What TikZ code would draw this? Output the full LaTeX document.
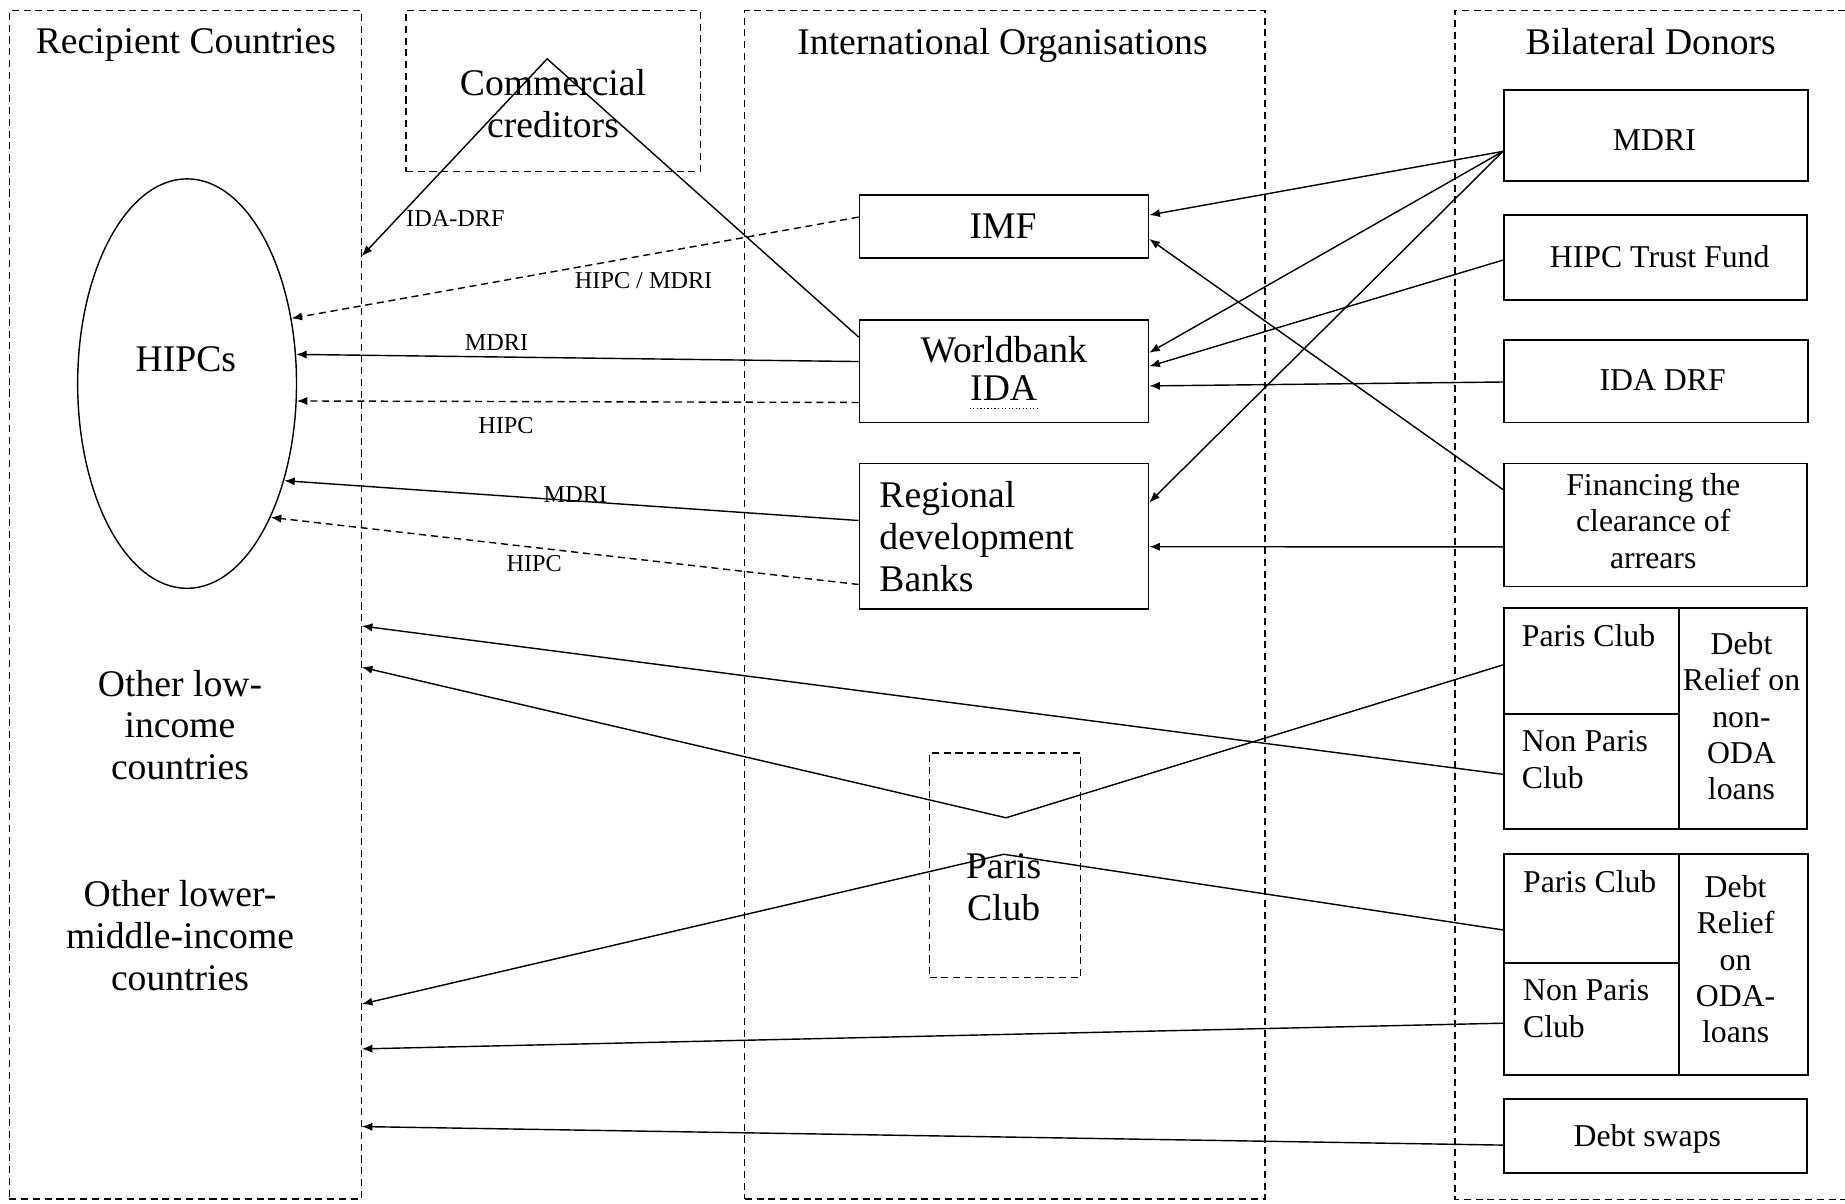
\documentclass[tikz,border=0pt]{standalone}
\usepackage{fontspec}
\setmainfont{Liberation Serif}
\usetikzlibrary{arrows.meta,calc,fit,shapes.geometric}
\begin{document}
\begin{tikzpicture}[x=0.5pt,y=-0.5pt,
  col/.style={draw, dash pattern=on 3pt off 2pt, line width=0.5pt, inner sep=0pt},
  box/.style={draw, line width=0.75pt, inner sep=0pt},
  lbl/.style={inner sep=0pt, text depth=0pt, font=\fontsize{16}{17.75}\selectfont, align=center},
  slbl/.style={inner sep=0pt, text depth=0pt, font=\fontsize{13.5}{15.5}\selectfont, align=center},
  tlbl/.style={inner sep=0pt, text depth=0pt, font=\fontsize{10.3}{12}\selectfont},
  arr/.style={line width=0.6pt, -{Latex[length=4.5pt,width=3.5pt]}},
  darr/.style={arr, dash pattern=on 3pt off 2pt},
  ln/.style={line width=0.6pt}
]
\useasboundingbox (0,0) rectangle (1568,1023);

% columns
\node[col, fit={(8,9) (307,1019)}] (rec) {};
\node[col, fit={(345,9) (595,146)}] (comm) {};
\node[col, fit={(633,9) (1075,1019)}] (io) {};
\node[inner sep=0pt, fit={(1237,9) (1568,1019)}] (bd) {};
\draw[dash pattern=on 3pt off 2pt, line width=0.5pt] (bd.north east) -- (bd.north west) -- (bd.south west) -- (bd.south east);

\node[lbl] (rect) at (158,35) {Recipient Countries};
\node[lbl] (commt) at (470,88) {Commercial\\creditors};
\node[lbl] (iot) at (852,35) {International Organisations};
\node[lbl] (bdt) at (1403,35) {Bilateral Donors};

% recipients
\node[draw, ellipse, line width=0.6pt, inner sep=0pt, minimum width=93pt, minimum height=174pt] (hipcs) at (159,326) {};
\node[lbl] (hipcst) at (158,305) {HIPCs};
\node[lbl] (olict) at (153,616) {Other low-\\income\\countries};
\node[lbl] (olmict) at (153,795) {Other lower-\\middle-income\\countries};

% international organisations
\node[box, fit={(730.5,166) (976,219.5)}] (imf) {};
\node[lbl] (imft) at (852.5,192.5) {IMF};
\node[box, fit={(730.5,272) (976,359)}] (wb) {};
\node[lbl] (wbt1) at (853,297) {Worldbank};
\node[lbl] (wbt2) at (853,330) {IDA};
\draw[line width=0.5pt, dash pattern=on 0.5pt off 1pt] ([yshift=-3pt]wbt2.south west) -- ([yshift=-3pt]wbt2.south east);
\node[box, fit={(730.5,394) (976,517.5)}] (rdb) {};
\node[lbl, anchor=west, align=left] (rdbt) at (747,456) {Regional\\development\\Banks};
\node[col, fit={(790,640) (918.5,831)}] (pc) {};
\node[lbl] (pct) at (853,754) {Paris\\Club};

% bilateral donors
\node[box, fit={(1278,76.5) (1536.5,153.5)}] (mdri) {};
\node[slbl] (mdrit) at (1406,119) {MDRI};
\node[box, fit={(1278,182.7) (1535.5,255)}] (htf) {};
\node[slbl] (htft) at (1410.5,218) {HIPC Trust Fund};
\node[box, fit={(1278,289) (1536.5,359)}] (idadrf) {};
\node[slbl] (idadrft) at (1413,323) {IDA DRF};
\node[box, fit={(1278,394) (1535.5,498.5)}] (fin) {};
\node[slbl] (fint) at (1405,442.5) {Financing the\\clearance of\\arrears};

\node[box, fit={(1278,517) (1427,606.8)}] (g1pc) {};
\node[box, fit={(1278,606.8) (1427,704.5)}] (g1npc) {};
\node[box, fit={(1427,517) (1535.5,704.5)}] (g1r) {};
\node[slbl, anchor=west] (g1pct) at (1293,540) {Paris Club};
\node[slbl, anchor=west, align=left] (g1npct) at (1293,645.5) {Non Paris\\Club};
\node[slbl] (g1rt) at (1480,608.5) {Debt\\Relief on\\non-\\ODA\\loans};

\node[box, fit={(1278,726) (1427,818.5)}] (g2pc) {};
\node[box, fit={(1278,818.5) (1427,913.5)}] (g2npc) {};
\node[box, fit={(1427,726) (1536.5,913.5)}] (g2r) {};
\node[slbl, anchor=west] (g2pct) at (1294,749) {Paris Club};
\node[slbl, anchor=west, align=left] (g2npct) at (1294,857) {Non Paris\\Club};
\node[slbl] (g2rt) at (1475,815) {Debt\\Relief\\on\\ODA-\\loans};

\node[box, fit={(1278,934) (1535.5,997)}] (ds) {};
\node[slbl] (dst) at (1400,965) {Debt swaps};

% free bend points
\coordinate (apex) at (465,50);
\coordinate (v1) at (855,695);
\coordinate (v2) at (853,726);

% connectors to HIPCs
\draw[arr] ($(wb.north west)!0.172!(wb.south west)$) -- (apex) -- ($(rec.north east)!0.2069!(rec.south east)$);
\draw[darr] ($(imf.north west)!0.35!(imf.south west)$) -- (hipcs.32);
\draw[arr] ($(wb.north west)!0.407!(wb.south west)$) -- (hipcs.15.5);
\draw[darr] ($(wb.north west)!0.80!(wb.south west)$) -- (hipcs.-9.6);
\draw[arr] ($(rdb.north west)!0.393!(rdb.south west)$) -- (hipcs.-45);
\draw[darr] ($(rdb.north west)!0.828!(rdb.south west)$) -- (hipcs.-58);

\node[tlbl] (l1) at (387,186) {IDA-DRF};
\node[tlbl] (l2) at (547,238) {HIPC / MDRI};
\node[tlbl] (l3) at (422,291) {MDRI};
\node[tlbl] (l4) at (430,362) {HIPC};
\node[tlbl] (l5) at (489,420) {MDRI};
\node[tlbl] (l6) at (454,479) {HIPC};

% donors to international organisations
\draw[arr] ($(mdri.north west)!0.674!(mdri.south west)$) -- ($(imf.north east)!0.318!(imf.south east)$);
\draw[arr] ($(mdri.north west)!0.674!(mdri.south west)$) -- ($(wb.north east)!0.322!(wb.south east)$);
\draw[arr] ($(mdri.north west)!0.674!(mdri.south west)$) -- ($(rdb.north east)!0.27!(rdb.south east)$);
\draw[arr] ($(htf.north west)!0.53!(htf.south west)$) -- ($(wb.north east)!0.453!(wb.south east)$);
\draw[arr] ($(idadrf.north west)!0.509!(idadrf.south west)$) -- ($(wb.north east)!0.641!(wb.south east)$);
\draw[arr] ($(fin.north west)!0.215!(fin.south west)$) -- ($(imf.north east)!0.688!(imf.south east)$);
\draw[arr] ($(fin.north west)!0.675!(fin.south west)$) -- ($(rdb.north east)!0.571!(rdb.south east)$);

% donors to recipients
\draw[arr] ($(g1pc.north west)!0.535!(g1pc.south west)$) -- (v1) -- ($(rec.north east)!0.5525!(rec.south east)$);
\draw[arr] ($(g1npc.north west)!0.524!(g1npc.south west)$) -- ($(rec.north east)!0.5178!(rec.south east)$);
\draw[arr] ($(g2pc.north west)!0.692!(g2pc.south west)$) -- (v2) -- ($(rec.north east)!0.8356!(rec.south east)$);
\draw[arr] ($(g2npc.north west)!0.537!(g2npc.south west)$) -- ($(rec.north east)!0.8733!(rec.south east)$);
\draw[arr] ($(ds.north west)!0.619!(ds.south west)$) -- ($(rec.north east)!0.9386!(rec.south east)$);
\end{tikzpicture}
\end{document}
